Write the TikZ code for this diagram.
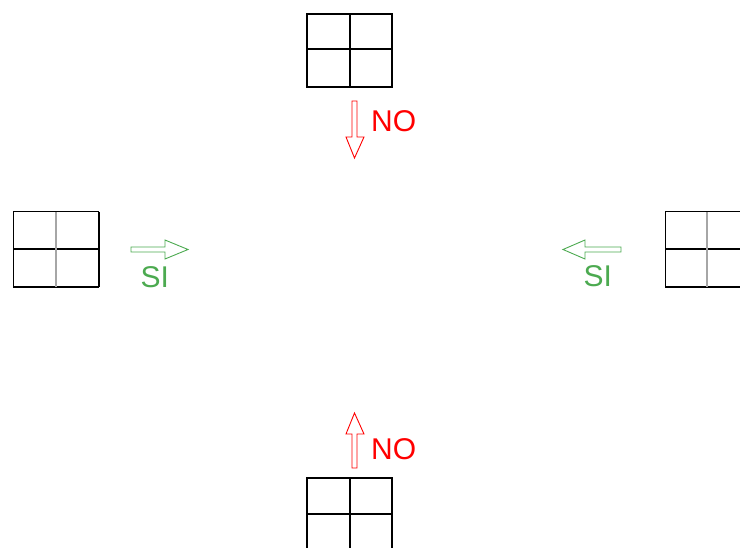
\documentclass[tikz,border=0pt]{standalone}
\usepackage{fontspec}
\setmainfont{Liberation Sans}
\definecolor{sigreen}{RGB}{76,170,80}
\definecolor{nored}{RGB}{255,0,0}
\begin{document}
\begin{tikzpicture}[x=1pt,y=-1pt,
  gridline/.style={line width=2pt,black},
  noarrow/.style={draw=nored,line width=0.9pt,fill=white,line join=miter},
  siarrow/.style={draw=sigreen,line width=0.9pt,fill=white,line join=miter},
  notext/.style={text=nored,font=\fontsize{30}{30}\selectfont,inner sep=0pt,anchor=base west},
  sitext/.style={text=sigreen,font=\fontsize{30}{30}\selectfont,inner sep=0pt,anchor=base west}]
\useasboundingbox (0,0) rectangle (740,548);
% top grid
\draw[gridline] (307,14) rectangle (392,87);
\draw[gridline] (350,14) -- (350,87) (307,49) -- (392,49);
% bottom grid
\draw[gridline] (307,478) rectangle (392,560);
\draw[gridline] (350,478) -- (350,560) (307,514) -- (392,514);
% left grid
\draw[line width=1pt] (13,212) -- (99,212) (13,212) -- (13,287);
\draw[line width=2pt] (99,212) -- (99,287) (13,287) -- (99,287) (13,249) -- (99,249);
\draw[line width=1.5pt,gray!70] (56,212) -- (56,287);
% right grid
\draw[line width=1pt] (665,212) -- (760,212) (665,212) -- (665,287);
\draw[line width=2pt] (665,287) -- (760,287) (665,249) -- (760,249);
\draw[line width=1.5pt,gray!70] (707,212) -- (707,287);
% top arrow (down)
\draw[noarrow] (352,101) -- (357,101) -- (357,137) -- (364,137) -- (354.5,158) -- (346,137) -- (352,137) -- cycle;
\node[notext] (notop) at (371,132) {NO};
% bottom arrow (up)
\draw[noarrow] (352,468) -- (357,468) -- (357,434) -- (364,434) -- (354.5,413) -- (346,434) -- (352,434) -- cycle;
\node[notext] (nobot) at (371,460) {NO};
% left arrow (right)
\draw[siarrow] (131,247) -- (165,247) -- (165,240) -- (188,249.5) -- (165,259) -- (165,252) -- (131,252) -- cycle;
\node[sitext] (sileft) at (140.5,288) {SI};
% right arrow (left)
\draw[siarrow] (621,247) -- (585,247) -- (585,240) -- (563,249.5) -- (585,259) -- (585,252) -- (621,252) -- cycle;
\node[sitext] (siright) at (583.5,287) {SI};
\end{tikzpicture}
\end{document}
